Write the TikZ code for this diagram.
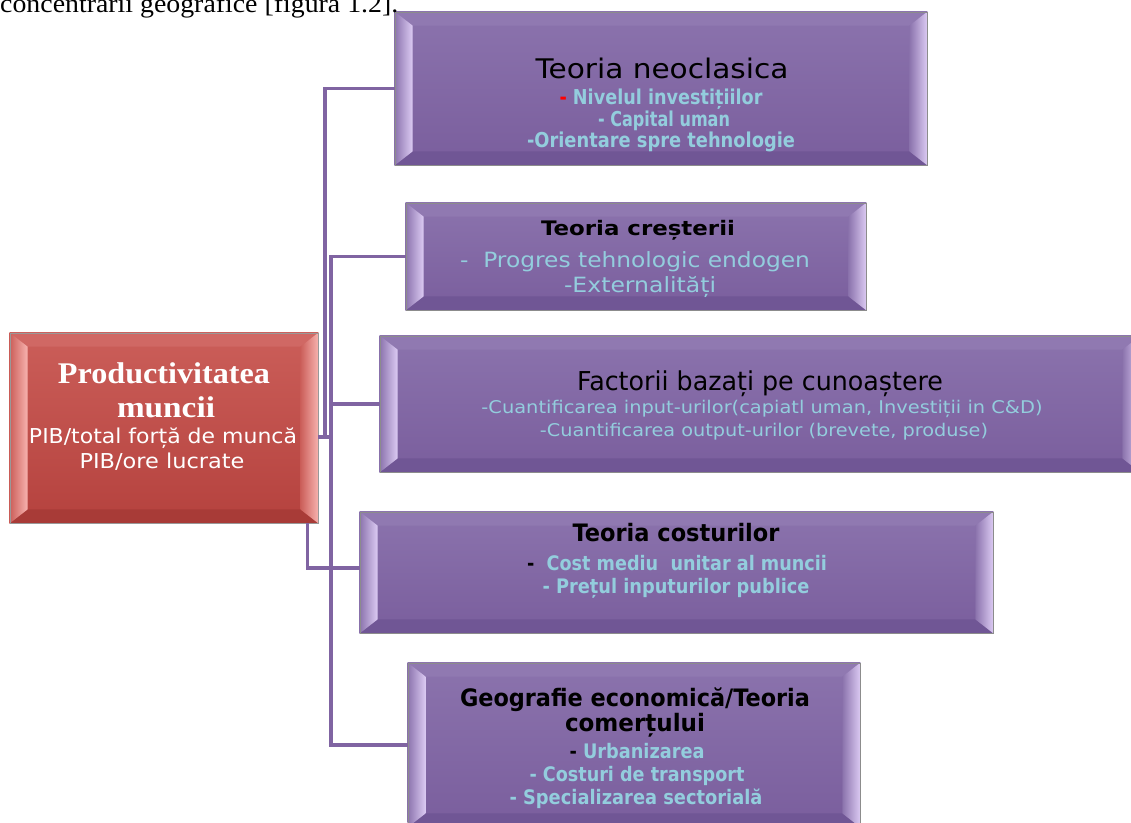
\documentclass[tikz,border=0pt]{standalone}
\usepackage{fontspec}
\setmainfont{Liberation Serif}
\newfontfamily\dv{DejaVu Sans}
\usetikzlibrary{calc}
\pgfdeclarelayer{bg}
\pgfdeclarelayer{paper}
\pgfsetlayers{paper,bg,main}
\definecolor{connc}{HTML}{8064A2}
\definecolor{pTop}{HTML}{8B73AD}
\definecolor{pBot}{HTML}{7A5E9D}
\definecolor{pLight}{HTML}{DCCBF3}
\definecolor{pTB}{HTML}{9079B1}
\definecolor{pBB}{HTML}{705695}
\definecolor{rTop}{HTML}{CB5E59}
\definecolor{rBot}{HTML}{B5423E}
\definecolor{rLight}{HTML}{F7B3AF}
\definecolor{rTB}{HTML}{D06864}
\definecolor{rBB}{HTML}{A83B37}
\definecolor{cy}{HTML}{93CDDD}
\newcommand\fw[2]{\resizebox{#1pt}{\height}{#2}}
\newcommand\bevelbox[6]{%
  \begin{pgfonlayer}{bg}
    \coordinate (A) at (#1.north west);
    \coordinate (B) at (#1.north east);
    \coordinate (C) at (#1.south east);
    \coordinate (D) at (#1.south west);
    \coordinate (a) at ($(A)+(18,14)$);
    \coordinate (b) at ($(B)+(-18,14)$);
    \coordinate (c) at ($(C)+(-18,-14)$);
    \coordinate (d) at ($(D)+(18,-14)$);
    \shade[top color=#2, bottom color=#3] (A) rectangle (C);
    \fill[#5] (A) -- (B) -- (b) -- (a) -- cycle;
    \fill[#6] (D) -- (C) -- (c) -- (d) -- cycle;
    \shade[left color=#2, right color=#4] (A) -- (a) -- (d) -- (D) -- cycle;
    \shade[left color=#2, right color=#4] (B) -- (b) -- (c) -- (C) -- cycle;
  \end{pgfonlayer}}
\tikzset{
  boxn/.style={rectangle, inner sep=0pt, draw=black!45, line width=0.8pt},
  txt/.style={inner sep=0pt, anchor=base},
  conn/.style={draw=connc, line width=3.5pt},
}
\begin{document}
\begin{tikzpicture}[x=1pt,y=-1pt]
\useasboundingbox (0,0) rectangle (1131,822);
\begin{pgfonlayer}{paper}
\fill[white] (0,0) rectangle (1131,822);
\end{pgfonlayer}

% top cut-off text
\node[txt, anchor=base west, font=\fontsize{26}{26}\selectfont] (top) at (0,12.5) {\fw{398}{concentrării geografice [figura 1.2].}};

% boxes
\node[boxn, minimum width=532pt, minimum height=153pt] (n1) at (661,88.5) {};
\node[boxn, minimum width=460pt, minimum height=107pt] (n2) at (636,256.5) {};
\node[boxn, minimum width=760pt, minimum height=136pt] (n3) at (760,404) {};
\node[boxn, minimum width=633pt, minimum height=121pt] (n4) at (676.5,572.5) {};
\node[boxn, minimum width=452pt, minimum height=164pt] (n5) at (634,745) {};
\node[boxn, draw=black!40, minimum width=308pt, minimum height=190pt] (root) at (164,428) {};

\bevelbox{n1}{pTop}{pBot}{pLight}{pTB}{pBB}
\bevelbox{n2}{pTop}{pBot}{pLight}{pTB}{pBB}
\bevelbox{n3}{pTop}{pBot}{pLight}{pTB}{pBB}
\bevelbox{n4}{pTop}{pBot}{pLight}{pTB}{pBB}
\bevelbox{n5}{pTop}{pBot}{pLight}{pTB}{pBB}
\bevelbox{root}{rTop}{rBot}{rLight}{rTB}{rBB}

% connectors
\coordinate (stub) at ($(root.east)+(0,9)$);
\coordinate (busA) at (325,437);
\coordinate (busB) at (331,437);
\coordinate (busC) at ($(root.south east)+(-11,0)$);
\draw[conn] (stub) -- (busA) |- (n1.west);
\draw[conn] (stub) -- (busB) |- (n2.west);
\draw[conn] (busB) |- (n3.west);
\draw[conn] (busB) |- (n5.west);
\draw[conn] (busC) |- ([yshift=4.5pt]n4.west);

% box 1 text
\node[txt, font=\dv\fontsize{27}{27}\selectfont] (n1a) at (662,78) {\fw{253}{Teoria neoclasica}};
\node[txt, font=\dv\bfseries\fontsize{20.5}{20.5}\selectfont, text=cy] (n1b) at (661,104) {\fw{203}{\textcolor{red}{-} Nivelul investițiilor}};
\node[txt, font=\dv\bfseries\fontsize{20.5}{20.5}\selectfont, text=cy] (n1c) at (664,126) {\fw{132}{- Capital uman}};
\node[txt, font=\dv\bfseries\fontsize{20.5}{20.5}\selectfont, text=cy] (n1d) at (661,147) {\fw{268}{-Orientare spre tehnologie}};

% box 2 text
\node[txt, font=\dv\bfseries\fontsize{20}{20}\selectfont] (n2a) at (638,235) {\fw{194}{Teoria creșterii}};
\node[txt, font=\dv\fontsize{21}{21}\selectfont, text=cy] (n2b) at (635,267) {\fw{350}{-\ \ Progres tehnologic endogen}};
\node[txt, font=\dv\fontsize{21}{21}\selectfont, text=cy] (n2c) at (640,292) {\fw{152}{-Externalități}};

% box 3 text
\node[txt, font=\dv\fontsize{26}{26}\selectfont] (n3a) at (760,390) {\fw{366}{Factorii bazați pe cunoaștere}};
\node[txt, font=\dv\fontsize{17.5}{17.5}\selectfont, text=cy] (n3b) at (762,413) {\fw{561}{-Cuantificarea input-urilor(capiatl uman, Investiții in C\&D)}};
\node[txt, font=\dv\fontsize{17.5}{17.5}\selectfont, text=cy] (n3c) at (764,436) {\fw{448}{-Cuantificarea output-urilor (brevete, produse)}};

% box 4 text
\node[txt, font=\dv\bfseries\fontsize{24}{24}\selectfont] (n4a) at (676,541) {\fw{207}{Teoria costurilor}};
\node[txt, font=\dv\bfseries\fontsize{20}{20}\selectfont, text=cy] (n4b) at (677,570) {\fw{300}{\textcolor{black}{-}\ \ Cost mediu\ \ unitar al muncii}};
\node[txt, font=\dv\bfseries\fontsize{20}{20}\selectfont, text=cy] (n4c) at (676,593) {\fw{267}{- Prețul inputurilor publice}};

% box 5 text
\node[txt, font=\dv\bfseries\fontsize{24}{24}\selectfont] (n5a) at (635,706) {\fw{350}{Geografie economică/Teoria}};
\node[txt, font=\dv\bfseries\fontsize{24}{24}\selectfont] (n5b) at (635,731) {\fw{140}{comerțului}};
\node[txt, font=\dv\bfseries\fontsize{20}{20}\selectfont, text=cy] (n5c) at (637,758) {\fw{135}{\textcolor{black}{-} Urbanizarea}};
\node[txt, font=\dv\bfseries\fontsize{20}{20}\selectfont, text=cy] (n5d) at (637,781) {\fw{215}{- Costuri de transport}};
\node[txt, font=\dv\bfseries\fontsize{20}{20}\selectfont, text=cy] (n5e) at (636,804) {\fw{253}{- Specializarea sectorială}};

% root text
\node[txt, font=\bfseries\fontsize{30}{30}\selectfont, text=white] (r1) at (164,383) {\fw{212}{Productivitatea}};
\node[txt, font=\bfseries\fontsize{30}{30}\selectfont, text=white] (r2) at (166,417) {\fw{98}{muncii}};
\node[txt, font=\dv\fontsize{20.5}{20.5}\selectfont, text=white] (r3) at (163,443.5) {\fw{268}{PIB/total forță de muncă}};
\node[txt, font=\dv\fontsize{20.5}{20.5}\selectfont, text=white] (r4) at (162,468) {\fw{165}{PIB/ore lucrate}};
\end{tikzpicture}
\end{document}
